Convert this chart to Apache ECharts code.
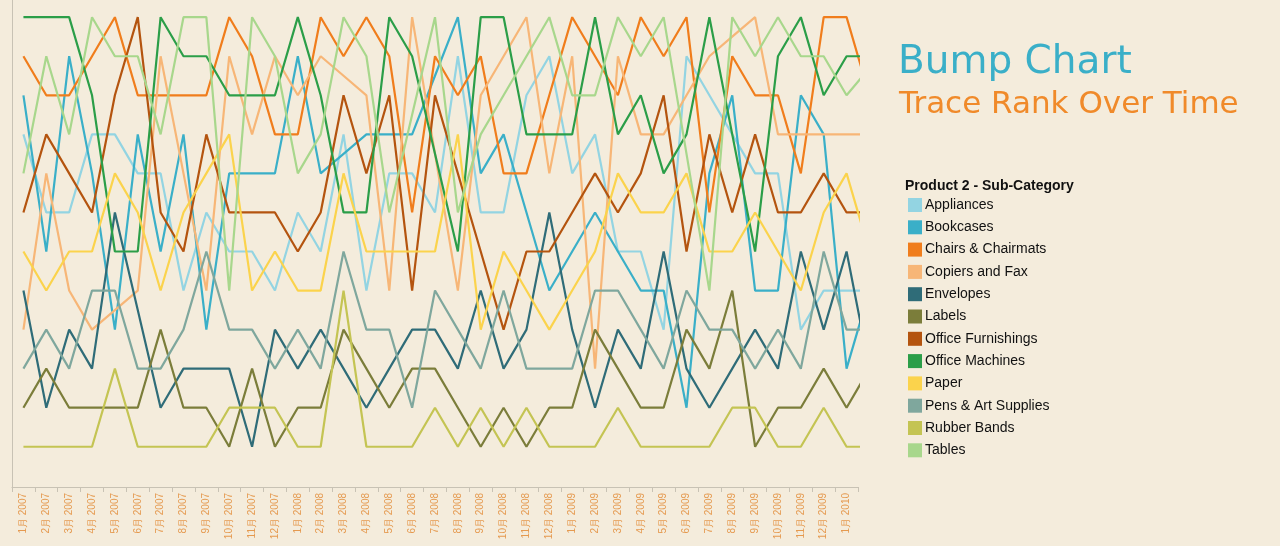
<!DOCTYPE html>
<html><head><meta charset="utf-8">
<script src="https://cdn.jsdelivr.net/npm/echarts@6/dist/echarts.min.js"></script>
<style>html,body{margin:0;padding:0;background:#f4ecdc;}#c{width:1280px;height:546px;}</style>
</head><body><div id="c"></div>
<script>
const months = [];
for (let y = 2007; y <= 2010; y++) for (let m = 1; m <= 12; m++) { if (y === 2010 && m > 1) break; months.push(m + '月 ' + y); }
const names = ['Appliances','Bookcases','Chairs & Chairmats','Copiers and Fax','Envelopes','Labels','Office Furnishings','Office Machines','Paper','Pens & Art Supplies','Rubber Bands','Tables'];
const colors = ['#93d4e2','#3aafc8','#f07d1c','#f7b677','#2f6c78','#7b7d3a','#b4540f','#2b9e48','#fbd34c','#7fa79d','#c4c453','#a8d78c'];
const appliances = [4,6,6,4,4,5,5,8,6,7,7,8,6,7,4,8,5,5,6, 2,6,6,3,2,5,4,7,7,9,2,3,4,5,5,9,8,8,8];
const bookcases = [3,7,2,5,9,4,7,4,9,5,5,5,2,5,4.5,4,4,4,2.5, 1,5,4,6,8,7,6,7,8,8,11,5,3,8,8,3,4,10,8];
const chairs = [2,3,3,2,1,3,3,3,3,1,2,4,4,1,2,1,2,6,2, 3,2,5,5,3,1,2,3,1,2,1,6,2,3,3,5,1,1,3];
const copiers = [9,5,8,9,8.5,8,2,5,8,2,4,2,3,2,2.5,3,8,1,4.5, 8,3,2,1,5,2,10,2,4,4,3,2,1.5,1,4,4,4,4,4];
const envelopes = [8,11,9,10,6,8.5,11,10,10,10,12,9,10,9,10,11,10,9,9, 10,8,10,9,6,9,11,9,10,7,10,11,10,9,10,7,9,7,10];
const labels = [11,10,11,11,11,11,9,11,11,12,10,12,11,11,9,10,11,10,10, 11,12,11,12,11,11,9,10,11,11,9,10,8,12,11,11,10,11,10];
const furnishings = [6,4,5,6,3,1,6,7,4,6,6,6,7,6,3,5,3,8,3, 5,7,9,7,7,6,5,6,5,3,7,4,6,4,6,6,5,6,6];
const machines = [1,1,1,3,7,7,1,2,2,3,3,3,1,3,6,6,1,2,4.5, 7,1,1,4,4,4,1,4,3,5,4,1,4,7,2,1,3,2,2];
const paper = [7,8,7,7,5,6,8,6,5,4,8,7,8,8,5,7,7,7,7, 4,9,7,8,9,8,7,5,6,6,5,7,7,6,7,8,6,5,7];
const pens = [10,9,10,8,8,10,10,9,7,9,9,10,9,10,7,9,9,11,8, 9,10,8,10,10,10,8,8,9,10,8,9,9,10,9,10,7,9,9];
const rubber = [12,12,12,12,10,12,12,12,12,11,11,11,12,12,8,12,12,12,11, 12,11,12,11,12,12,12,11,12,12,12,12,11,11,12,12,11,12,12];
const tables = [5,2,4,1,2,2,4,1,1,8,1,2,5,4,1,2,6,3.5,1, 6,4,3,2,1,3,3,1,2,1,4.5,8,1,2,1,2,2,3,2.3];
const allData = [appliances,bookcases,chairs,copiers,envelopes,labels,furnishings,machines,paper,pens,rubber,tables];

const chart = echarts.init(document.getElementById('c'));
chart.setOption({
  backgroundColor: '#f4ecdc',
  animation: false,
  title: [
    {text: 'Bump Chart', left: 893, top: 38, textStyle: {color: '#3aafc8', fontSize: 39, fontWeight: 'normal', fontFamily: 'Verdana, DejaVu Sans'}},
    {text: 'Trace Rank Over Time', left: 894, top: 84, textStyle: {color: '#f08a2a', fontSize: 31, fontWeight: 'normal', fontFamily: 'Verdana, DejaVu Sans'}},
    {text: 'Product 2 - Sub-Category', left: 900, top: 174, textStyle: {color: '#111', fontSize: 14, fontWeight: 'bold', fontFamily: 'Arial, Liberation Sans'}}
  ],
  legend: {
    orient: 'vertical', left: 903, top: 193, itemWidth: 14, itemHeight: 14, itemGap: 8.3,
    icon: 'rect', textStyle: {color: '#111', fontSize: 14, fontFamily: 'Arial, Liberation Sans', padding: [0,0,0,-2]},
    data: names
  },
  grid: {left: 12, right: 422, top: 0, bottom: 59},
  xAxis: [
    {type: 'category', data: months, boundaryGap: true,
     axisLine: {show: true, lineStyle: {color: '#c8c2b4'}},
     axisTick: {show: true, lineStyle: {color: '#c8c2b4'}},
     axisLabel: {rotate: 90, color: '#e59a50', fontSize: 10, interval: 0, margin: 6, fontFamily: 'Arial, Liberation Sans'}},
    {type: 'value', min: -0.5, max: 36.5, show: false}
  ],
  yAxis: {type: 'value', inverse: true, min: 0.56, max: 13.03, show: true,
    axisLine: {show: true, onZero: false, lineStyle: {color: '#c8c2b4'}}, axisTick: {show: false}, axisLabel: {show: false}, splitLine: {show: false}},
  series: names.map((n, k) => ({
    name: n, type: 'line', xAxisIndex: 1, symbol: 'none', clip: true,
    lineStyle: {width: 2.2, color: colors[k]}, itemStyle: {color: colors[k]},
    data: allData[k].map((v, i) => [i, v])
  }))
});
</script></body></html>
